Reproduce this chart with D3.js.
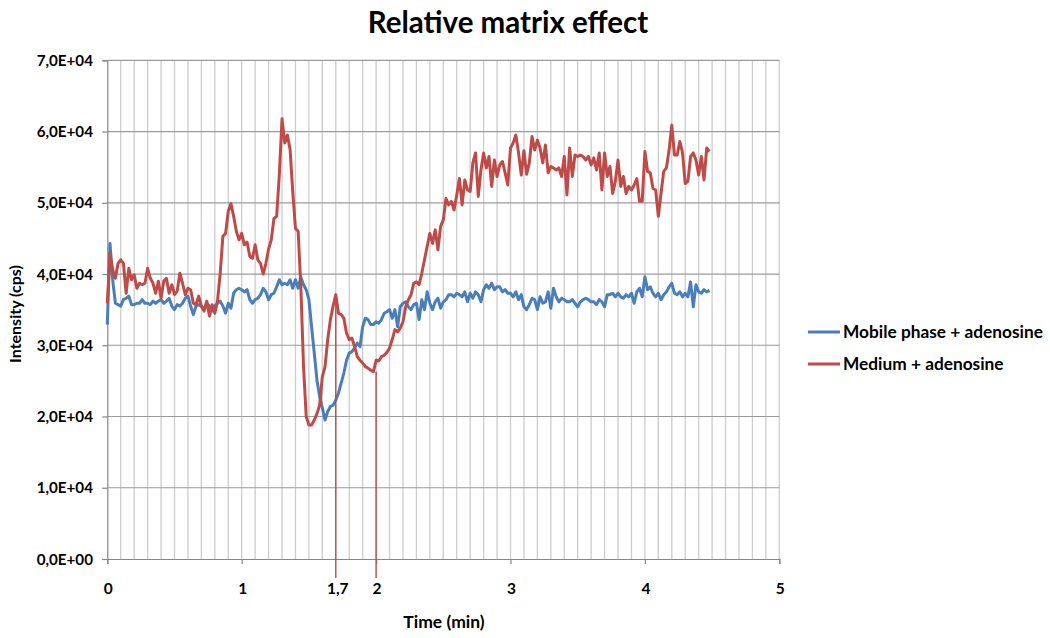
<!DOCTYPE html>
<html>
<head>
<meta charset="utf-8">
<script src="https://cdn.jsdelivr.net/npm/d3@7.9.0/dist/d3.min.js"></script>
<style>
  body { margin: 0; background: #fff; }
  text { font-family: Lato, "Open Sans", sans-serif; font-weight: bold; fill: #000; }
</style>
</head>
<body>
<svg id="chart" width="1050" height="638"></svg>
<script>
// sampling step of both traces (min)
const step = 0.02;

// Mobile phase + adenosine (cps), one value every 0.02 min from 0
const mobilePhase = [
  32900, 44300, 39200, 35900, 35700, 35500, 36400, 36600, 36900, 35700,
  35700, 35900, 35900, 36400, 35900, 35900, 35700, 36200, 35900, 36200,
  36400, 35900, 36200, 36600, 35500, 35000, 35700, 35500, 35900, 36600,
  36900, 35500, 34300, 35500, 35700, 35500, 35000, 35900, 35500, 34800,
  35500, 35900, 36200, 35500, 34500, 35900, 35200, 37300, 37800, 38000,
  37800, 37500, 37800, 36400, 35900, 36400, 36600, 37100, 38000, 37500,
  36400, 37100, 37300, 38200, 39200, 38500, 38700, 38500, 39200, 38000,
  39200, 38000, 39600, 38500, 37800, 36400, 32600, 28900, 25100, 22800,
  21200, 19500, 20700, 21400, 21600, 22300, 23300, 24700, 26100, 27900,
  28900, 29100, 29600, 30300, 29800, 32600, 33800, 33600, 32900, 32900,
  33300, 33100, 33600, 34500, 34700, 35000, 33800, 35000, 32600, 35400,
  35900, 36100, 35400, 35000, 35700, 35900, 33600, 36400, 35000, 37500,
  35900, 35000, 36100, 36600, 35200, 36100, 36400, 37100, 37100, 36800,
  37300, 37100, 36800, 37500, 36100, 37300, 36600, 37500, 37100, 36100,
  37800, 38500, 38000, 38700, 37800, 38200, 38200, 37500, 37800, 37300,
  37300, 36800, 37500, 36400, 37100, 35400, 35000, 35700, 36600, 36400,
  35000, 36800, 35900, 36100, 37500, 35200, 38000, 36800, 36100, 36600,
  36400, 36100, 36100, 36400, 35900, 35400, 36100, 36400, 36600, 36400,
  36100, 36100, 35700, 36400, 36100, 35400, 37100, 37100, 37300, 36800,
  37300, 36800, 36600, 37100, 36800, 37300, 35900, 37500, 38000, 36800,
  39600, 37800, 38200, 37300, 36800, 37300, 36400, 37100, 37500, 38200,
  38700, 37300, 37100, 37500, 36800, 37300, 36800, 38900, 35400, 38500,
  37500, 37300, 37800, 37500, 37700
];

// Medium + adenosine (cps), same sampling
const medium = [
  35900, 42900, 40600, 39400, 41500, 42000, 41500, 37300, 40800, 39200,
  39900, 38000, 38700, 38500, 38700, 40800, 39400, 38700, 37300, 39000,
  36600, 39000, 39400, 37300, 38500, 37100, 37600, 40100, 38700, 37100,
  38000, 37800, 35900, 35700, 36900, 35500, 34800, 36200, 34100, 35700,
  34500, 36200, 40100, 45300, 45700, 48800, 49900, 48100, 46000, 44800,
  45700, 44100, 44500, 42500, 42200, 44100, 42000, 41500, 40000, 41500,
  43500, 44800, 47800, 48100, 54000, 61800, 58400, 59500, 57500, 51500,
  46400, 46000, 38200, 27000, 20000, 18800, 18800, 19500, 20400, 21600,
  25600, 27000, 30800, 33600, 35500, 37100, 34500, 34300, 33800, 31700,
  30800, 31000, 29800, 28400, 27900, 27500, 27000, 26800, 26500, 26300,
  27900, 27800, 28400, 28600, 29000, 29600, 30800, 32200, 31900, 32400,
  33300, 35400, 36400, 37100, 38700, 38900, 38500, 40100, 42000, 43900,
  45700, 44300, 46200, 43400, 46700, 47600, 50600, 49700, 50200, 49000,
  51100, 53400, 49700, 53200, 51800, 51600, 55600, 57000, 50900, 54600,
  57000, 54900, 56500, 52300, 56000, 53700, 55300, 55800, 54200, 52500,
  57700, 58400, 59500, 57000, 53900, 57300, 54000, 55600, 59300, 57400,
  58800, 57700, 55600, 58100, 54200, 55100, 54900, 54600, 54900, 53700,
  56500, 51100, 57700, 53700, 56700, 56500, 56700, 56500, 56000, 56500,
  55300, 56300, 54600, 57000, 51800, 57000, 53700, 55100, 51300, 53000,
  56000, 52300, 53700, 51300, 52300, 51800, 52500, 53400, 50200, 50200,
  57200, 54400, 54200, 52000, 51800, 48100, 51300, 54400, 54900, 57400,
  60900, 56700, 56700, 58600, 57000, 52700, 53000, 56500, 57000, 56000,
  53900, 56500, 53200, 57700, 57200
];

// red marker lines: time (min) and top of the line (cps)
const markerTimes = [1.7, 2.0];
const markerTops = [37100, 26300];

const xTicks = [0, 1, 1.7, 2, 3, 4, 5];
const xTickLabels = ['0', '1', '1,7', '2', '3', '4', '5'];
const yTicks = [0, 10000, 20000, 30000, 40000, 50000, 60000, 70000];
const yTickLabels = ['0,0E+00', '1,0E+04', '2,0E+04', '3,0E+04', '4,0E+04', '5,0E+04', '6,0E+04', '7,0E+04'];

const seriesNames = ['Mobile phase + adenosine', 'Medium + adenosine'];
const colors = ['#4a7ebb', '#be4b48'];

const svg = d3.select('#chart');
const plotLeft = 107.3, plotRight = 779.3, plotTop = 60.3, plotBottom = 559;

let x = d3.scaleLinear().domain([0, 5]).range([plotLeft, plotRight]);
let y = d3.scaleLinear().domain([0, 70000]).range([plotBottom, plotTop]);

// vertical grid every 0.1 min
svg.append('g')
  .selectAll('line')
  .data(d3.range(1, 51).map(i => i / 10))
  .join('line')
  .attr('x1', d => x(d)).attr('x2', d => x(d))
  .attr('y1', plotTop).attr('y2', plotBottom)
  .attr('stroke', '#cdcdcd')
  .attr('stroke-width', 1.3);

// horizontal grid
svg.append('g')
  .selectAll('line')
  .data(yTicks.slice(1))
  .join('line')
  .attr('x1', plotLeft).attr('x2', plotRight)
  .attr('y1', d => y(d)).attr('y2', d => y(d))
  .attr('stroke', '#9a9a9a')
  .attr('stroke-width', 1.2);

// axes
let xAxis = d3.axisBottom(x).tickValues([0, 1, 2, 3, 4, 5]).tickSize(5).tickFormat('');
svg.append('g').attr('transform', `translate(0,${plotBottom})`).call(xAxis)
  .call(g => g.selectAll('line,path').attr('stroke', '#868686').attr('stroke-width', 1.2));

let yAxis = d3.axisLeft(y).tickValues(yTicks).tickSize(5).tickFormat('');
svg.append('g').attr('transform', `translate(${plotLeft},0)`).call(yAxis)
  .call(g => g.selectAll('line,path').attr('stroke', '#868686').attr('stroke-width', 1.2));

// tick labels
svg.append('g')
  .selectAll('text')
  .data(xTicks)
  .join('text')
  .attr('x', (d, i) => x(d) + (xTickLabels[i] === '1,7' ? 2 : 1))
  .attr('y', 594)
  .attr('text-anchor', 'middle')
  .attr('font-size', 15.5)
  .text((d, i) => xTickLabels[i]);

svg.append('g')
  .selectAll('text')
  .data(yTicks)
  .join('text')
  .attr('x', 93)
  .attr('y', d => y(d) + 5.5)
  .attr('text-anchor', 'end')
  .attr('font-size', 15.2)
  .text((d, i) => yTickLabels[i]);

// traces
const line = d3.line()
  .x((d, i) => x(i * step))
  .y(d => y(d));

[mobilePhase, medium].forEach((s, idx) => {
  svg.append('path')
    .attr('d', line(s))
    .attr('fill', 'none')
    .attr('stroke', colors[idx])
    .attr('stroke-width', 3)
    .attr('stroke-linejoin', 'round');
});

// marker lines
markerTimes.forEach((t, i) => {
  svg.append('line')
    .attr('x1', x(t)).attr('x2', x(t))
    .attr('y1', y(markerTops[i])).attr('y2', 578)
    .attr('stroke', colors[1])
    .attr('stroke-width', 1.4);
});

// titles
svg.append('text')
  .attr('x', 508).attr('y', 33)
  .attr('text-anchor', 'middle')
  .attr('font-size', 29.5)
  .text('Relative matrix effect');

svg.append('text')
  .attr('x', 444).attr('y', 628)
  .attr('text-anchor', 'middle')
  .attr('font-size', 17.5)
  .text('Time (min)');

svg.append('text')
  .attr('transform', 'translate(21,314) rotate(-90)')
  .attr('text-anchor', 'middle')
  .attr('font-size', 16)
  .text('Intensity (cps)');

// legend
let legend = svg.append('g');
seriesNames.forEach((name, idx) => {
  let ly = 332 + idx * 32;
  legend.append('line')
    .attr('x1', 808).attr('x2', 840)
    .attr('y1', ly).attr('y2', ly)
    .attr('stroke', colors[idx])
    .attr('stroke-width', 3);
  legend.append('text')
    .attr('x', 843).attr('y', ly + 6)
    .attr('font-size', 17.3)
    .text(name);
});
</script>
</body>
</html>
